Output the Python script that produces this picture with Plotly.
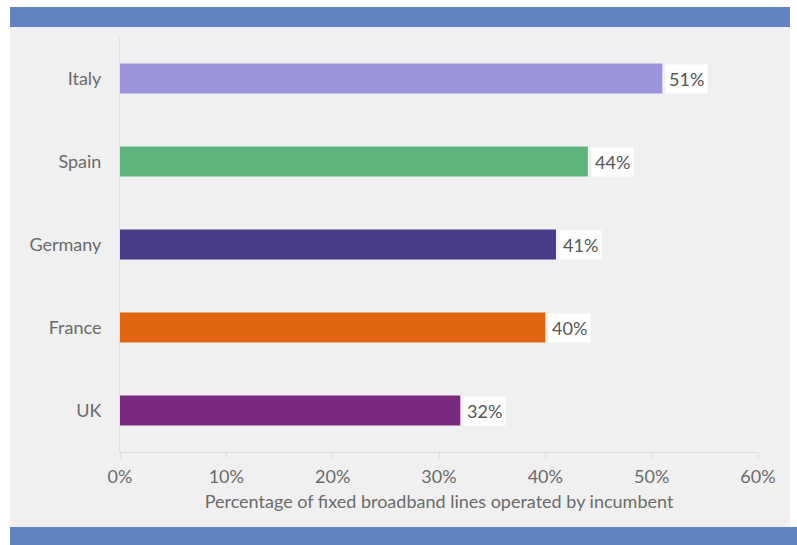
import plotly.graph_objects as go

countries = ["UK", "France", "Germany", "Spain", "Italy"]
shares = [32, 40, 41, 44, 51]
bar_colors = ["#7a2a7e", "#e0650e", "#463c8a", "#5cb47c", "#9b93db"]
x_ticks = [0, 10, 20, 30, 40, 50, 60]
x_tick_labels = [f"{t}%" for t in x_ticks]

W, H = 797, 545
FONT = "Lato"
TEXT = "#6b6b6b"
FS = 18

fig = go.Figure()
fig.add_trace(go.Bar(
    x=shares, y=countries, orientation="h",
    marker=dict(color=bar_colors, line=dict(width=0)),
    hoverinfo="skip",
))

# value labels on white boxes at the end of each bar
for c, v in zip(countries, shares):
    fig.add_annotation(
        x=v, y=c, xref="x", yref="y", text=f"{v}%", showarrow=False,
        xanchor="left", xshift=3, bgcolor="white", borderpad=3,
        font=dict(family=FONT, size=FS, color="#555555"),
    )

L, R, T, B = 120, W - 758, 37, H - 452

# pixel coordinates on the page -> plot-area paper coordinates
def cx(p):
    return (p - L) / (W - L - R)

def cy(p):
    return (H - B - p) / (H - T - B)

def band(x0, x1, y0, y1, color):
    return dict(type="rect", xref="paper", yref="paper", layer="below",
                x0=cx(x0), x1=cx(x1), y0=cy(y1), y1=cy(y0),
                fillcolor=color, line=dict(width=0))

shapes = [
    band(10, 790, 27, 527, "#f0f0f0"),   # grey panel
    band(10, 790, 7, 27, "#6282c1"),     # top band
    band(10, 797, 527, 545, "#6282c1"),  # bottom band
]

fig.update_layout(
    width=W, height=H,
    margin=dict(l=L, r=R, t=T, b=B),
    paper_bgcolor="white",
    plot_bgcolor="rgba(0,0,0,0)",
    shapes=shapes,
    showlegend=False,
    bargap=0.64,
    font=dict(family=FONT, color=TEXT),
    xaxis=dict(
        range=[0, 60], tickvals=x_ticks, ticktext=x_tick_labels,
        showgrid=False, zeroline=False,
        showline=True, linecolor="#dddddd", linewidth=1,
        ticks="outside", ticklen=5, tickcolor="#dddddd",
        ticklabelstandoff=3,
        tickfont=dict(family=FONT, size=FS, color=TEXT),
        title=dict(text="Percentage of fixed broadband lines operated by incumbent",
                   font=dict(family=FONT, size=FS, color=TEXT), standoff=9),
    ),
    yaxis=dict(
        showgrid=False, zeroline=False,
        showline=True, linecolor="#e2e2e2", linewidth=1,
        ticks="", ticklabelstandoff=14,
        tickfont=dict(family=FONT, size=FS, color=TEXT),
    ),
)

fig.write_html("out.html")
